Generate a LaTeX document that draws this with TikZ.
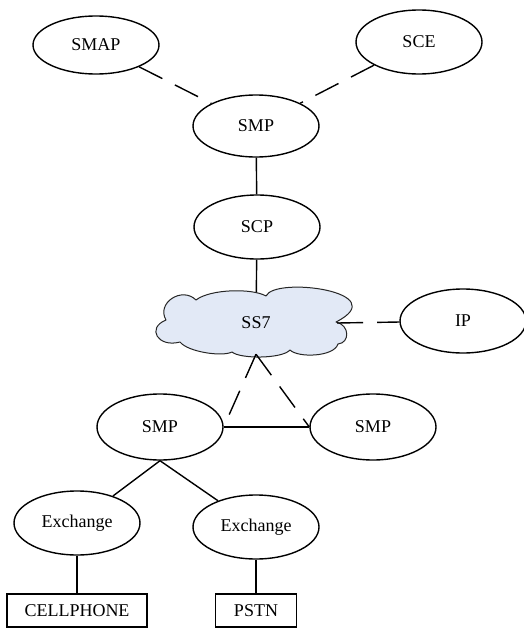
\documentclass[tikz,border=0pt]{standalone}
\usepackage{fontspec}
\setmainfont{Liberation Serif}
\usetikzlibrary{shapes.geometric}
\definecolor{cloudfill}{RGB}{226,233,246}
\tikzset{
  lbl/.style={font=\fontsize{18}{21}\selectfont},
  oval/.style={lbl, draw, ellipse, line width=1.4pt, minimum width=126pt, minimum height=64pt, inner sep=0pt},
  termbox/.style={lbl, draw, rectangle, line width=1.4pt, minimum height=33pt, inner sep=0pt},
  hub/.style={lbl, ellipse, minimum width=162pt, minimum height=62pt, inner sep=0pt},
  cloudline/.style={draw=black!85, fill=cloudfill, line width=1pt, line join=round},
  link/.style={line width=1.4pt},
  dlink/.style={line width=1.4pt, dash pattern=on 26pt off 14pt},
}
\begin{document}
\begin{tikzpicture}[x=1pt,y=-1pt]
\useasboundingbox (0,0) rectangle (524,629);

% SS7 cloud outline, one Bezier lobe per bump
\path[cloudline]
  (180,342) .. controls (158,348) and (146,328) .. (166,320)
            .. controls (156,303) and (182,286) .. (196,300)
            .. controls (210,289) and (252,288) .. (266,296)
            .. controls (275,276) and (395,292) .. (336,322)
            .. controls (350,325) and (350,343) .. (338,344)
            .. controls (334,357) and (298,358) .. (290,350)
            .. controls (282,359) and (240,359) .. (232,352)
            .. controls (222,357) and (188,352) .. (180,342) -- cycle;

% management layer
\node[oval, minimum height=58pt] (smap) at (96,45) {SMAP};
\node[oval] (sce) at (419,42) {SCE};
\node[oval, minimum height=62pt] (smpT) at (256,126) {SMP};
\node[oval] (scp) at (257,227) {SCP};

% signalling network
\node[hub] (ss7) at (256,323) {SS7};
\node[oval] (ip) at (463,321) {IP};

% switching layer
\node[oval, minimum height=66pt] (smpL) at (160,427) {SMP};
\node[oval, minimum height=66pt] (smpR) at (373,427) {SMP};
\node[oval] (exL) at (77,523) {Exchange};
\node[oval] (exR) at (256,527) {Exchange};

% terminals
\node[termbox, minimum width=140pt] (cell) at (77,610.5) {CELLPHONE};
\node[termbox, minimum width=81pt] (pstn) at (256,610.5) {PSTN};

% connectors
\draw[dlink] (smap) -- (smpT);
\draw[dlink] (sce) -- (smpT);
\draw[link] (smpT) -- (scp);
\draw[link] (scp) -- (ss7);
\draw[dlink] (ss7.east) -- (ip);
\draw[dlink] (ss7.south) -- (smpL.east);
\draw[dlink] (ss7.south) -- (smpR.west);
\draw[link] (smpL.east) -- (smpR.west);
\draw[link] (smpL.south) -- (exL);
\draw[link] (smpL.south) -- (exR);
\draw[link] (exL) -- (cell);
\draw[link] (exR) -- (pstn);
\end{tikzpicture}
\end{document}
